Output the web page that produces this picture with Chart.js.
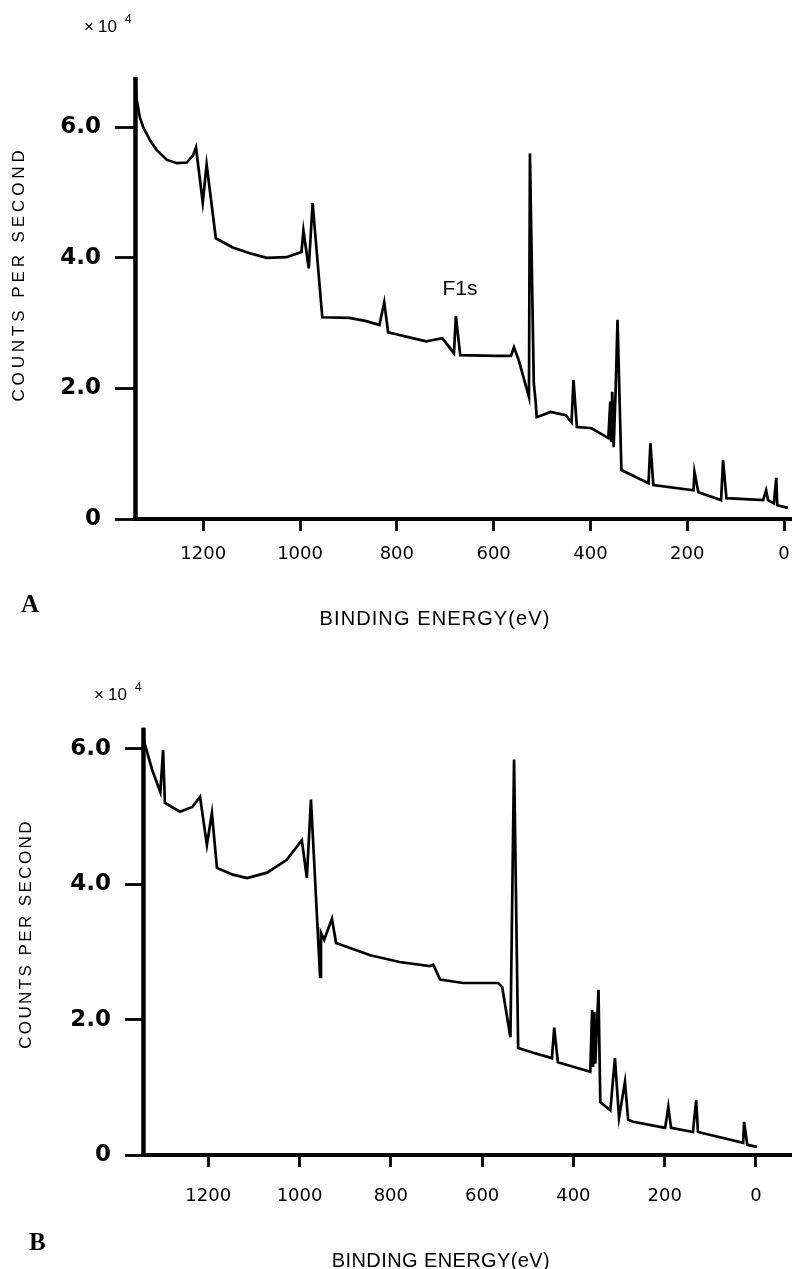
<!DOCTYPE html>
<html><head><meta charset="utf-8">
<script src="https://cdn.jsdelivr.net/npm/chart.js@4.4.1/dist/chart.umd.min.js"></script>
<style>
html,body{margin:0;padding:0;background:#fff;}
#wrap{position:relative;width:792px;height:1269px;overflow:hidden;background:#fff;}
.box{position:absolute;left:0;width:792px;}
</style></head><body>
<div id="wrap">
<div class="box" style="top:0;height:635px"><canvas id="chartA" width="792" height="635"></canvas></div>
<div class="box" style="top:635px;height:634px"><canvas id="chartB" width="792" height="634"></canvas></div>
</div>
<script>
// ---- shared tick data ----
const xTickValues = [1200, 1000, 800, 600, 400, 200, 0];
const xTickLabels = ['1200', '1000', '800', '600', '400', '200', '0'];
const yTickValues = [0, 2, 4, 6];
const yTickLabels = ['0', '2.0', '4.0', '6.0'];

// ---- Panel A: binding energy (eV) and counts per second (x10^4) ----
const energyA = [1340, 1338, 1331, 1324, 1310, 1296, 1275, 1254, 1234, 1221, 1215, 1201, 1193, 1174, 1139, 1104, 1069, 1028, 997, 993, 982, 974, 954, 898, 863, 836, 826, 818, 801, 768, 739, 706, 682, 678, 669, 595, 564, 558, 548, 527, 525, 517, 513, 511, 482, 451, 439, 435, 428, 398, 384, 363, 359, 357, 355, 352, 348, 344, 336, 280, 276, 270, 187, 185, 177, 130, 126, 119, 43, 37, 33, 21, 16, 14, -8];
const countsA = [6.77, 6.45, 6.15, 6.00, 5.80, 5.65, 5.50, 5.45, 5.46, 5.57, 5.69, 4.85, 5.43, 4.30, 4.16, 4.07, 4.00, 4.01, 4.09, 4.42, 3.84, 4.84, 3.09, 3.08, 3.03, 2.97, 3.32, 2.86, 2.83, 2.77, 2.72, 2.77, 2.54, 3.11, 2.51, 2.50, 2.50, 2.63, 2.43, 1.87, 5.60, 2.08, 1.78, 1.56, 1.64, 1.59, 1.48, 2.13, 1.41, 1.39, 1.33, 1.24, 1.80, 1.18, 1.95, 1.10, 1.95, 3.05, 0.75, 0.55, 1.16, 0.52, 0.44, 0.72, 0.41, 0.29, 0.90, 0.32, 0.29, 0.44, 0.29, 0.24, 0.63, 0.21, 0.17];
const spikeEnergyA = [1340, 1340];
const spikeCountsA = [0, 6.77];

// ---- Panel B ----
const energyB = [1342, 1340, 1323, 1305, 1299, 1295, 1262, 1235, 1218, 1203, 1192, 1181, 1146, 1115, 1071, 1028, 995, 984, 975, 962, 955, 953, 946, 929, 920, 845, 781, 715, 707, 692, 642, 565, 556, 538, 530, 521, 488, 447, 442, 434, 363, 359, 357, 354, 352, 345, 341, 319, 309, 300, 287, 280, 269, 199, 192, 186, 138, 131, 127, 28, 26, 19, -2];
const countsB = [6.31, 6.09, 5.69, 5.36, 5.98, 5.20, 5.07, 5.14, 5.29, 4.58, 5.05, 4.24, 4.14, 4.09, 4.17, 4.36, 4.65, 4.09, 5.25, 3.55, 2.63, 3.28, 3.18, 3.49, 3.13, 2.95, 2.85, 2.79, 2.81, 2.59, 2.54, 2.54, 2.48, 1.74, 5.84, 1.58, 1.51, 1.43, 1.88, 1.37, 1.23, 2.14, 1.30, 2.11, 1.35, 2.44, 0.78, 0.66, 1.43, 0.55, 1.08, 0.52, 0.49, 0.40, 0.71, 0.40, 0.34, 0.81, 0.34, 0.18, 0.49, 0.15, 0.12];
const spikeEnergyB = [1342, 1342];
const spikeCountsB = [0, 6.31];

function pts(xs, ys) { return xs.map((x, i) => ({ x: x, y: ys[i] })); }

const textPlugin = {
  id: 'texts',
  afterDraw(chart, args, o) {
    const ctx = chart.ctx;
    ctx.save();
    ctx.fillStyle = '#000';
    // y title
    ctx.save();
    ctx.translate(o.yTitle.x, o.yTitle.y);
    ctx.rotate(-Math.PI / 2);
    ctx.font = '17px "Liberation Sans", Arial, sans-serif';
    ctx.letterSpacing = o.yTitle.spacing + 'px';
    ctx.textAlign = 'center';
    ctx.textBaseline = 'middle';
    ctx.fillText('COUNTS PER SECOND', 0, 0);
    ctx.restore();
    // x title
    ctx.save();
    ctx.font = '20px "Liberation Sans", Arial, sans-serif';
    ctx.letterSpacing = o.xTitle.spacing + 'px';
    ctx.textAlign = 'center';
    ctx.textBaseline = 'alphabetic';
    ctx.fillText('BINDING ENERGY(eV)', o.xTitle.x, o.xTitle.y);
    ctx.restore();
    // multiplier
    ctx.save();
    ctx.textBaseline = 'alphabetic';
    ctx.textAlign = 'left';
    ctx.font = '17px "Liberation Sans", Arial, sans-serif';
    ctx.fillText('\u00d7', o.mult.x, o.mult.y);
    ctx.fillText('10', o.mult.x + 14, o.mult.y);
    ctx.font = '12px "Liberation Sans", Arial, sans-serif';
    ctx.fillText('4', o.mult.x + 41, o.mult.y - 9);
    ctx.restore();
    // panel letter
    ctx.save();
    ctx.font = 'bold 25px "Liberation Serif", "Times New Roman", serif';
    ctx.textAlign = 'left';
    ctx.textBaseline = 'alphabetic';
    ctx.fillText(o.panel.text, o.panel.x, o.panel.y);
    ctx.restore();
    // annotation
    if (o.note) {
      ctx.save();
      ctx.font = '21px "Liberation Sans", Arial, sans-serif';
      ctx.textAlign = 'center';
      ctx.textBaseline = 'middle';
      ctx.fillText(o.note.text, o.note.x, o.note.y);
      ctx.restore();
    }
    ctx.restore();
  }
};

function makeChart(id, p) {
  return new Chart(document.getElementById(id), {
    type: 'line',
    data: {
      datasets: [
        { data: pts(p.spikeE, p.spikeC), borderColor: '#000', borderWidth: 4.5, pointRadius: 0, tension: 0, clip: false },
        { data: pts(p.energy, p.counts), borderColor: '#000', borderWidth: 2.7, pointRadius: 0, tension: 0, clip: false, borderJoinStyle: 'miter' }
      ]
    },
    options: {
      responsive: false,
      animation: false,
      devicePixelRatio: 1,
      layout: { padding: { top: p.top, left: 0, right: 0, bottom: 0 } },
      plugins: { legend: { display: false }, tooltip: { enabled: false }, texts: p.texts },
      scales: {
        x: {
          type: 'linear', reverse: true, min: p.xMin, max: p.xMax,
          afterBuildTicks: s => { s.ticks = xTickValues.map(v => ({ value: v })); },
          afterFit: s => { s.height = p.bottomH; s.paddingLeft = 0; s.paddingRight = 0; },
          grid: { drawOnChartArea: false, drawTicks: true, tickLength: 12, tickWidth: 2.8, tickColor: '#000' },
          border: { display: true, width: 4, color: '#000' },
          ticks: {
            autoSkip: false, maxRotation: 0, color: '#000', padding: p.xPad,
            font: { family: 'DejaVu Sans', size: 18 },
            callback: v => xTickLabels[xTickValues.indexOf(v)]
          }
        },
        y: {
          type: 'linear', min: 0, max: 7,
          afterBuildTicks: s => { s.ticks = yTickValues.map(v => ({ value: v })); },
          afterFit: s => { s.width = p.leftW; s.paddingTop = 0; s.paddingBottom = 0; },
          grid: { drawOnChartArea: false, drawTicks: true, tickLength: p.yTickLen, tickWidth: 2.8, tickColor: '#000' },
          border: { display: false },
          ticks: {
            color: '#000', padding: p.yPad,
            font: { family: 'DejaVu Sans', weight: 'bold', size: 23 },
            callback: v => yTickLabels[yTickValues.indexOf(v)]
          }
        }
      }
    },
    plugins: [textPlugin]
  });
}

makeChart('chartA', {
  energy: energyA, counts: countsA, spikeE: spikeEnergyA, spikeC: spikeCountsA,
  xMin: -16.5, xMax: 1341, top: 62, bottomH: 116, leftW: 135, yTickLen: 20, yPad: 14, xPad: 13,
  texts: {
    yTitle: { x: 19, y: 274, spacing: 3.9 },
    xTitle: { x: 435, y: 625, spacing: 1.1 },
    mult: { x: 84, y: 32 },
    panel: { text: 'A', x: 21, y: 612 },
    note: { text: 'F1s', x: 460, y: 289 }
  }
});

makeChart('chartB', {
  energy: energyB, counts: countsB, spikeE: spikeEnergyB, spikeC: spikeCountsB,
  xMin: -79, xMax: 1343, top: 46, bottomH: 114, leftW: 143, yTickLen: 18, yPad: 14, xPad: 19,
  texts: {
    yTitle: { x: 26, y: 299, spacing: 2.4 },
    xTitle: { x: 441, y: 632, spacing: 0.4 },
    mult: { x: 94, y: 65 },
    panel: { text: 'B', x: 29, y: 615 },
    note: null
  }
});
</script>
</body></html>
